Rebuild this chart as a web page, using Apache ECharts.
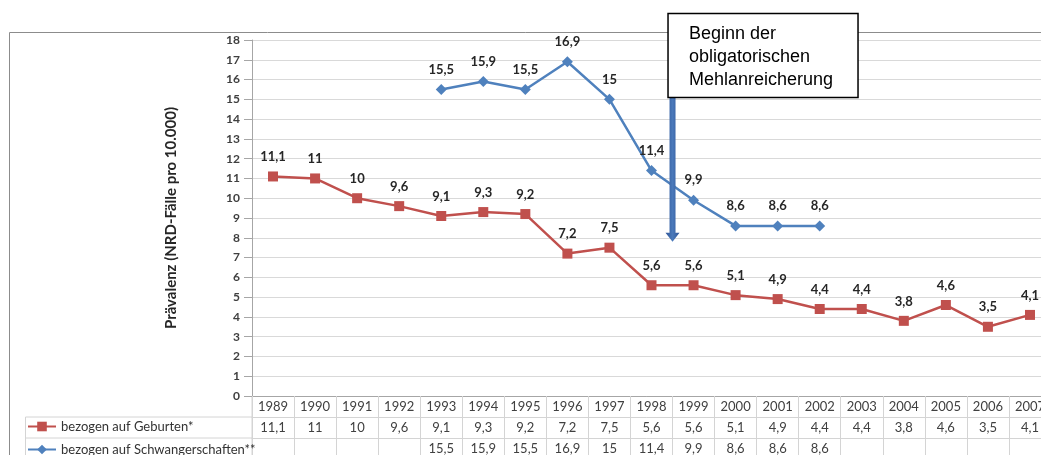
<!DOCTYPE html>
<html><head><meta charset="utf-8">
<script src="https://cdn.jsdelivr.net/npm/echarts@6/dist/echarts.min.js"></script>
<style>html,body{margin:0;padding:0;background:#fff}#c{width:1041px;height:455px}</style>
</head><body><div id="c"></div>
<script>
const years = ['1989','1990','1991','1992','1993','1994','1995','1996','1997','1998','1999','2000','2001','2002','2003','2004','2005','2006','2007'];
const geburten = [11.1, 11, 10, 9.6, 9.1, 9.3, 9.2, 7.2, 7.5, 5.6, 5.6, 5.1, 4.9, 4.4, 4.4, 3.8, 4.6, 3.5, 4.1];
const schwangerschaften = [null, null, null, null, 15.5, 15.9, 15.5, 16.9, 15, 11.4, 9.9, 8.6, 8.6, 8.6, null, null, null, null, null];
const seriesNames = ['bezogen auf Geburten*', 'bezogen auf Schwangerschaften**'];
const yTitle = 'Prävalenz (NRD-Fälle pro 10.000)';
const noteText = 'Beginn der\nobligatorischen\nMehlanreicherung';
const noteYear1 = '1998', noteYear2 = '1999', noteArrowTipValue = 7.8;

const fmt = v => (v === null || v === undefined) ? '' : String(v).replace('.', ',');
const FONT = 'Lato, "Open Sans", sans-serif';
const RED = '#C0504D', BLUE = '#4F81BD';
const tableLine = '#D4D4D4';
const ROW = 21;

function tableAxis(idx, fmtFn) {
  return {
    type: 'category', data: years, position: 'bottom', gridIndex: 0, offset: idx * ROW,
    boundaryGap: true,
    axisLine: { show: true, lineStyle: { color: idx === 0 ? '#A6A6A6' : tableLine, width: 1 } },
    axisTick: { show: true, length: ROW, interval: 0, alignWithLabel: false, lineStyle: { color: tableLine } },
    axisLabel: { interval: 0, margin: 4, fontFamily: FONT, fontSize: 13, color: '#404040', formatter: fmtFn },
    splitLine: { show: false }
  };
}

const chart = echarts.init(document.getElementById('c'));
chart.setOption({
  animation: false,
  backgroundColor: '#fff',
  grid: { left: 252, top: 40, width: 799, height: 356, containLabel: false, outerBoundsMode: 'none' },
  legend: {
    orient: 'vertical', left: 27, top: 420, height: 80, padding: 0, itemWidth: 28, itemHeight: 12, itemGap: 10,
    textStyle: { fontFamily: FONT, fontSize: 13, color: '#333' },
    data: seriesNames
  },
  xAxis: [
    tableAxis(0, (v) => v),
    tableAxis(1, (v, i) => fmt(geburten[i])),
    tableAxis(2, (v, i) => fmt(schwangerschaften[i]))
  ],
  yAxis: {
    type: 'value', min: 0, max: 18, interval: 1,
    name: yTitle, nameLocation: 'middle', nameGap: 73, nameRotate: 90,
    nameTextStyle: { fontFamily: FONT, fontSize: 15, fontWeight: 'bold', color: '#262626' },
    axisLine: { show: true, lineStyle: { color: '#A6A6A6' } },
    axisTick: { show: true, length: 8, lineStyle: { color: '#A6A6A6' } },
    axisLabel: { margin: 12, fontFamily: FONT, fontSize: 12, fontWeight: 'bold', color: '#404040' },
    splitLine: { show: true, lineStyle: { color: '#D9D9D9', width: 1.2 } }
  },
  series: [
    {
      name: seriesNames[0], type: 'line', data: geburten, xAxisIndex: 0,
      symbol: 'rect', symbolSize: 10, connectNulls: false,
      lineStyle: { color: RED, width: 2.5 }, itemStyle: { color: RED },
      label: { show: true, position: 'top', distance: 8, fontFamily: FONT, fontSize: 13, fontWeight: 'bold', color: '#262626', formatter: p => fmt(p.value) }
    },
    {
      name: seriesNames[1], type: 'line', data: schwangerschaften, xAxisIndex: 0,
      symbol: 'diamond', symbolSize: 11, connectNulls: false,
      lineStyle: { color: BLUE, width: 2.5 }, itemStyle: { color: BLUE },
      label: { show: true, position: 'top', distance: 8, fontFamily: FONT, fontSize: 13, fontWeight: 'bold', color: '#262626', formatter: p => fmt(p.value) }
    }
  ]
});

const x1 = chart.convertToPixel({ xAxisIndex: 0 }, noteYear1);
const x2 = chart.convertToPixel({ xAxisIndex: 0 }, noteYear2);
const ax = (x1 + x2) / 2;
const tipY = chart.convertToPixel({ yAxisIndex: 0 }, noteArrowTipValue);
const plotLeft = chart.convertToPixel({ xAxisIndex: 0 }, years[0]) - (x2 - x1) / 2;
const axisY = chart.convertToPixel({ yAxisIndex: 0 }, 0);
const boxX = ax - 4.5, boxY = 13.5, boxW = 190, boxH = 84;
const tblLeft = 25.5;

chart.setOption({
  graphic: [
    { type: 'rect', shape: { x: 9.5, y: 32.5, width: 1200, height: 600 }, style: { fill: 'none', stroke: '#8C8C8C', lineWidth: 1 }, silent: true, z: 0 },
    { type: 'line', shape: { x1: tblLeft, y1: axisY + ROW, x2: plotLeft, y2: axisY + ROW }, style: { stroke: tableLine, lineWidth: 1 }, silent: true },
    { type: 'line', shape: { x1: tblLeft, y1: axisY + 2 * ROW, x2: plotLeft, y2: axisY + 2 * ROW }, style: { stroke: tableLine, lineWidth: 1 }, silent: true },
    { type: 'line', shape: { x1: tblLeft, y1: axisY + ROW, x2: tblLeft, y2: axisY + 3 * ROW }, style: { stroke: tableLine, lineWidth: 1 }, silent: true },
    { type: 'line', shape: { x1: plotLeft, y1: axisY, x2: plotLeft, y2: axisY + 3 * ROW }, style: { stroke: tableLine, lineWidth: 1 }, silent: true },
    { type: 'polygon', z: 100,
      shape: { points: [[ax - 3, boxY + boxH], [ax + 3, boxY + boxH], [ax + 3, tipY - 9], [ax + 7, tipY - 9], [ax, tipY], [ax - 7, tipY - 9], [ax - 3, tipY - 9]] },
      style: { fill: new echarts.graphic.LinearGradient(0, 0, 1, 0, [{ offset: 0, color: '#2F5597' }, { offset: 0.5, color: '#4A79BA' }, { offset: 1, color: '#2F5597' }]) }, silent: true },
    { type: 'rect', z: 101, shape: { x: boxX, y: boxY, width: boxW, height: boxH }, style: { fill: '#fff', stroke: '#000', lineWidth: 1.5 }, silent: true },
    { type: 'text', z: 102, x: boxX + 21, y: boxY + 9,
      style: { text: noteText, font: '18px "Liberation Sans", Arial, sans-serif', fill: '#000', lineHeight: 23 }, silent: true }
  ]
});
</script>
</body></html>
